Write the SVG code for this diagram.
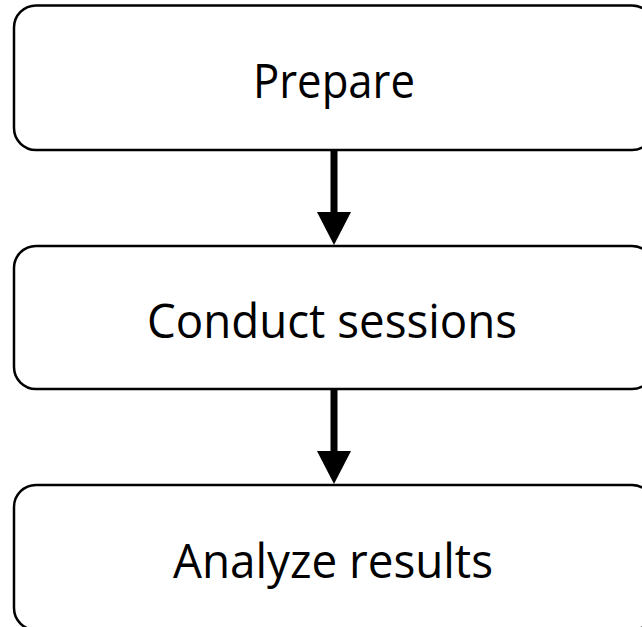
<svg xmlns="http://www.w3.org/2000/svg" width="642" height="627" viewBox="0 0 642 627">
<style>
.box{fill:#fff;stroke:#000;stroke-width:2.5}
.lbl{font-family:"Open Sans","Liberation Sans",sans-serif;font-size:48px;fill:#000;text-anchor:middle}
.conn{stroke:#000;stroke-width:7;fill:none}
.head{fill:#000}
</style>
<rect width="642" height="627" fill="#fff"/>
<g id="connectors">
<line class="conn" x1="334" y1="150" x2="334" y2="213"/>
<path class="head" d="M317,212 L351,212 L334,245 Z"/>
<line class="conn" x1="334" y1="389" x2="334" y2="452"/>
<path class="head" d="M317,451 L351,451 L334,484 Z"/>
</g>
<g id="prepare">
<rect class="box" x="14" y="5.5" width="640" height="144.5" rx="22"/>
<text class="lbl" x="334" y="98" textLength="162" lengthAdjust="spacingAndGlyphs">Prepare</text>
</g>
<g id="conduct">
<rect class="box" x="14" y="246" width="640" height="143" rx="22"/>
<text class="lbl" x="332" y="338" textLength="370" lengthAdjust="spacingAndGlyphs">Conduct sessions</text>
</g>
<g id="analyze">
<rect class="box" x="14" y="485" width="640" height="145" rx="22"/>
<text class="lbl" x="333" y="578" textLength="320" lengthAdjust="spacingAndGlyphs">Analyze results</text>
</g>
</svg>
